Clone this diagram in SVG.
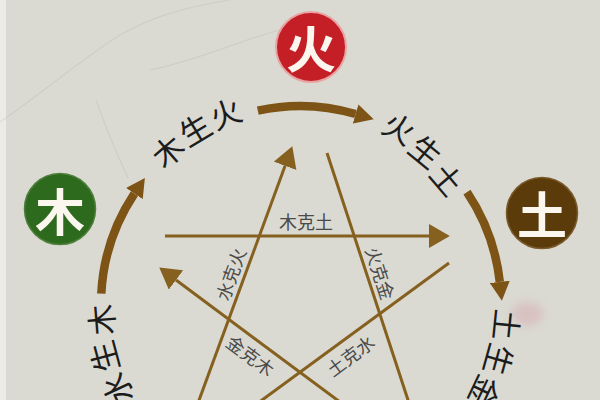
<svg xmlns="http://www.w3.org/2000/svg" width="600" height="400" viewBox="0 0 600 400">
  <defs>
    <style>
      .ring { fill: none; stroke: #7e5416; stroke-width: 8.5; }
      .star { fill: none; stroke: #86601f; stroke-width: 3; }
      .rl { font-family: "Noto Sans CJK SC", "Noto Sans", sans-serif; font-size: 31px; fill: #1c1c1c; text-anchor: middle; dominant-baseline: central; }
      .kl { font-family: "Noto Sans CJK SC", "Noto Sans", sans-serif; font-size: 18px; fill: #4a4a4a; text-anchor: middle; dominant-baseline: central; }
      .el { font-family: "Noto Sans CJK SC", "Noto Sans", sans-serif; font-size: 50px; font-weight: 700; fill: #fbf6ee; text-anchor: middle; dominant-baseline: central; }
    </style>
    <marker id="bigArrow" markerUnits="userSpaceOnUse" markerWidth="20" markerHeight="20" refX="0" refY="9" orient="auto" viewBox="0 0 18 18">
      <path d="M0,0 L17,9 L0,18 z" fill="#7e5416"/>
    </marker>
    <marker id="starArrow" markerUnits="userSpaceOnUse" markerWidth="22" markerHeight="24" refX="0" refY="11.5" orient="auto" viewBox="0 0 21 23">
      <path d="M0,0 L20,11.5 L0,23 z" fill="#86601f"/>
    </marker>
    <filter id="blur" x="-50%" y="-50%" width="200%" height="200%">
      <feGaussianBlur stdDeviation="5"/>
    </filter>
  </defs>

  <rect x="0" y="0" width="600" height="400" fill="#dadad2"/>
  <rect x="0" y="0" width="6" height="400" fill="#ecece6"/>
  <g fill="none" stroke="#9a9a90" stroke-width="1.2" opacity="0.18">
    <path d="M0,122 C40,95 80,60 120,35 C150,18 180,8 230,0"/>
    <path d="M96,100 C105,125 115,150 128,178"/>
    <path d="M150,70 C200,60 240,40 280,30"/>
  </g>
  <ellipse cx="527" cy="314" rx="16" ry="12" fill="#d7a9b0" opacity="0.5" filter="url(#blur)"/>

  <g id="connectors">
    <path class="ring" d="M257.8,110.6 A198,198 0 0 1 355.6,114.0" marker-end="url(#bigArrow)"/>
    <path class="ring" d="M467.0,192.2 A201,201 0 0 1 499.8,281.9" marker-end="url(#bigArrow)"/>
    <path class="ring" d="M101.3,293.6 A199,199 0 0 1 134.4,193.6" marker-end="url(#bigArrow)"/>

    <path class="star" d="M165,236 L429,236" marker-end="url(#starArrow)"/>
    <path class="star" d="M198,403 L285.1,165.8" marker-end="url(#starArrow)"/>
    <path class="star" d="M327,153 L409,403"/>
    <path class="star" d="M340,402 L176.0,280.0" marker-end="url(#starArrow)"/>
    <path class="star" d="M449,263 L258,403"/>
  </g>

  <g id="fire">
    <circle cx="311" cy="47" r="35" fill="#c41f26" stroke="#eaa3a3" stroke-width="2"/>
    <text class="el" x="311" y="46">火</text>
  </g>
  <g id="wood">
    <circle cx="60" cy="209" r="35.5" fill="#2e6a1d" stroke="#4d7f3a" stroke-width="1.5"/>
    <text class="el" x="60" y="209">木</text>
  </g>
  <g id="earth">
    <circle cx="542" cy="213" r="35.5" fill="#5c3b0b" stroke="#7a5a2a" stroke-width="1.5"/>
    <text class="el" x="542" y="212">土</text>
  </g>

  <g id="label-wood-fire">
    <text class="rl" transform="translate(167,150) rotate(-40.8)">木</text>
    <text class="rl" transform="translate(194.4,128.3) rotate(-31)">生</text>
    <text class="rl" transform="translate(225,112) rotate(-21.3)">火</text>
  </g>
  <g id="label-fire-earth">
    <text class="rl" transform="translate(400,127) rotate(29.5)">火</text>
    <text class="rl" transform="translate(426.6,150.5) rotate(39.5)">生</text>
    <text class="rl" transform="translate(448,178) rotate(49.6)">土</text>
  </g>
  <g id="label-water-wood">
    <text class="rl" transform="translate(100,320) rotate(-94.6)">木</text>
    <text class="rl" transform="translate(103,357) rotate(-105)">生</text>
    <text class="rl" transform="translate(116,389.8) rotate(-115)">水</text>
  </g>
  <g id="label-earth-metal">
    <text class="rl" transform="translate(508,325) rotate(95.8)">土</text>
    <text class="rl" transform="translate(500,360) rotate(105.6)">生</text>
    <text class="rl" transform="translate(486.1,392.4) rotate(115.4)">金</text>
  </g>

  <g id="ke-labels">
    <text class="kl" x="306" y="221">木克土</text>
    <text class="kl" transform="translate(230,274) rotate(-70.2)">水克火</text>
    <text class="kl" transform="translate(381,273) rotate(72)">火克金</text>
    <text class="kl" transform="translate(251,355) rotate(36.7)">金克木</text>
    <text class="kl" transform="translate(350,355) rotate(-36.4)">土克水</text>
  </g>
</svg>
